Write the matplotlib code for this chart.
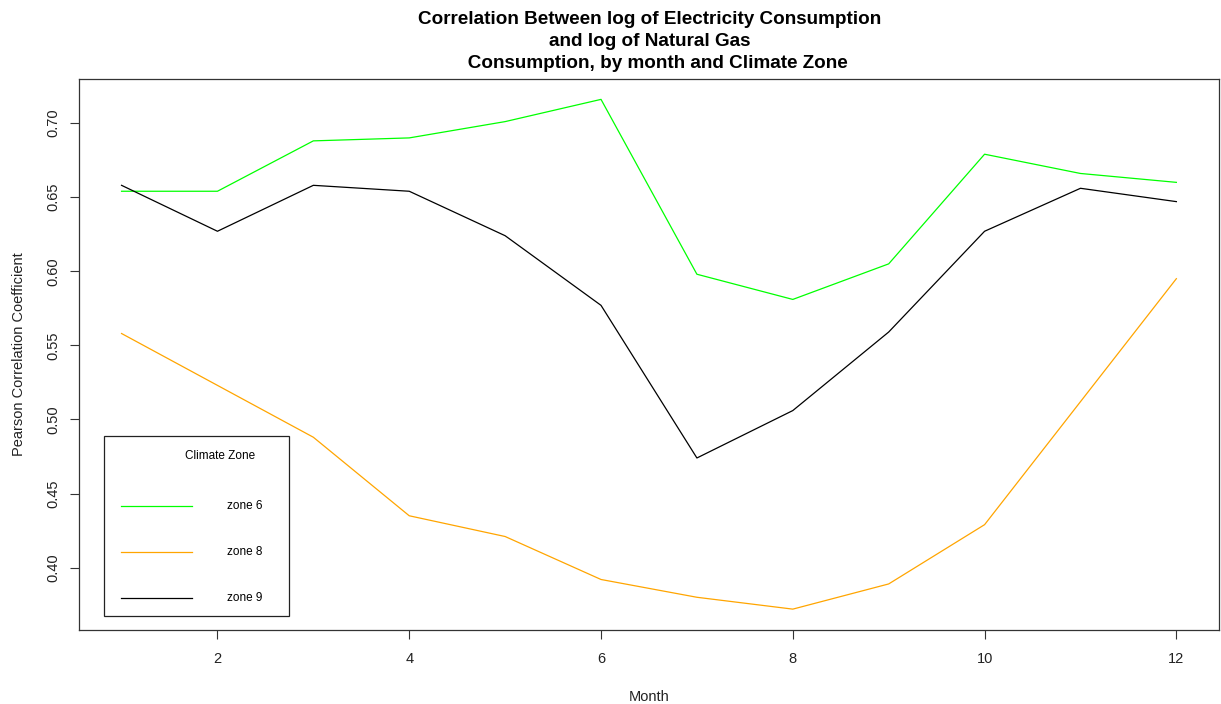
import matplotlib
matplotlib.use("Agg")
import matplotlib.pyplot as plt
from matplotlib.patches import Rectangle

plt.rcParams["font.family"] = ["Liberation Sans", "DejaVu Sans"]

# correlation by month and climate zone
months = [1, 2, 3, 4, 5, 6, 7, 8, 9, 10, 11, 12]
zone6 = [0.654, 0.654, 0.688, 0.690, 0.701, 0.716, 0.598, 0.581, 0.605, 0.679, 0.666, 0.660]
zone8 = [0.558, 0.523, 0.488, 0.435, 0.421, 0.392, 0.380, 0.372, 0.389, 0.429, 0.512, 0.595]
zone9 = [0.658, 0.627, 0.658, 0.654, 0.624, 0.577, 0.474, 0.506, 0.559, 0.627, 0.656, 0.647]

zone_names = ["zone 6", "zone 8", "zone 9"]
zone_colors = ["#00FF00", "#FFA500", "#000000"]

fig = plt.figure(figsize=(12.21, 7.04), dpi=100)
ax = fig.add_axes([0.065, 0.1058, 0.933, 0.782])

for vals, col in zip([zone6, zone8, zone9], zone_colors):
    ax.plot(months, vals, color=col, lw=0.9)

# R style limits: data range padded by 4%
lo = min(min(zone6), min(zone8), min(zone9))
hi = max(max(zone6), max(zone8), max(zone9))
pad = 0.04 * (hi - lo)
ax.set_ylim(lo - pad, hi + pad)
ax.set_xlim(1 - 0.04 * 11, 12 + 0.04 * 11)

ax.set_xticks([2, 4, 6, 8, 10, 12])
ax.set_yticks([0.40, 0.45, 0.50, 0.55, 0.60, 0.65, 0.70])
ax.set_yticklabels(["0.40", "0.45", "0.50", "0.55", "0.60", "0.65", "0.70"],
                   rotation=90, va="center")
ax.tick_params(axis="both", length=6.5, width=0.8, color="#333333", labelsize=10.5,
               labelcolor="#222222")
ax.tick_params(axis="x", pad=10)
ax.tick_params(axis="y", pad=7)
for s in ax.spines.values():
    s.set_linewidth(0.9)
    s.set_color("#333333")

ax.set_xlabel("Month", fontsize=10.5, labelpad=17, color="#222222")
ax.set_ylabel("Pearson Correlation Coefficient", fontsize=10.5, labelpad=15, color="#222222")

fig.text(0.532, 0.985,
         "Correlation Between log of Electricity Consumption\nand log of Natural Gas\n   Consumption, by month and Climate Zone",
         ha="center", va="top", fontsize=13.6, fontweight="bold", linespacing=1.4)

# legend drawn R style (box, title, line keys)
ax.add_patch(Rectangle((0.0219, 0.0248), 0.1624, 0.3275, transform=ax.transAxes,
                       fill=False, lw=0.9, edgecolor="#222222", zorder=3))
ax.text(0.1239, 0.3155, "Climate Zone", transform=ax.transAxes, ha="center", va="center",
        fontsize=8.5)
key_y = [0.2245, 0.1409, 0.0573]
for ky, name, col in zip(key_y, zone_names, zone_colors):
    ax.plot([0.0366, 0.0989], [ky, ky], transform=ax.transAxes, color=col, lw=0.9)
    ax.text(0.1450, ky, name, transform=ax.transAxes, ha="center", va="center", fontsize=8.5)

fig.savefig("out.png", dpi=100)
